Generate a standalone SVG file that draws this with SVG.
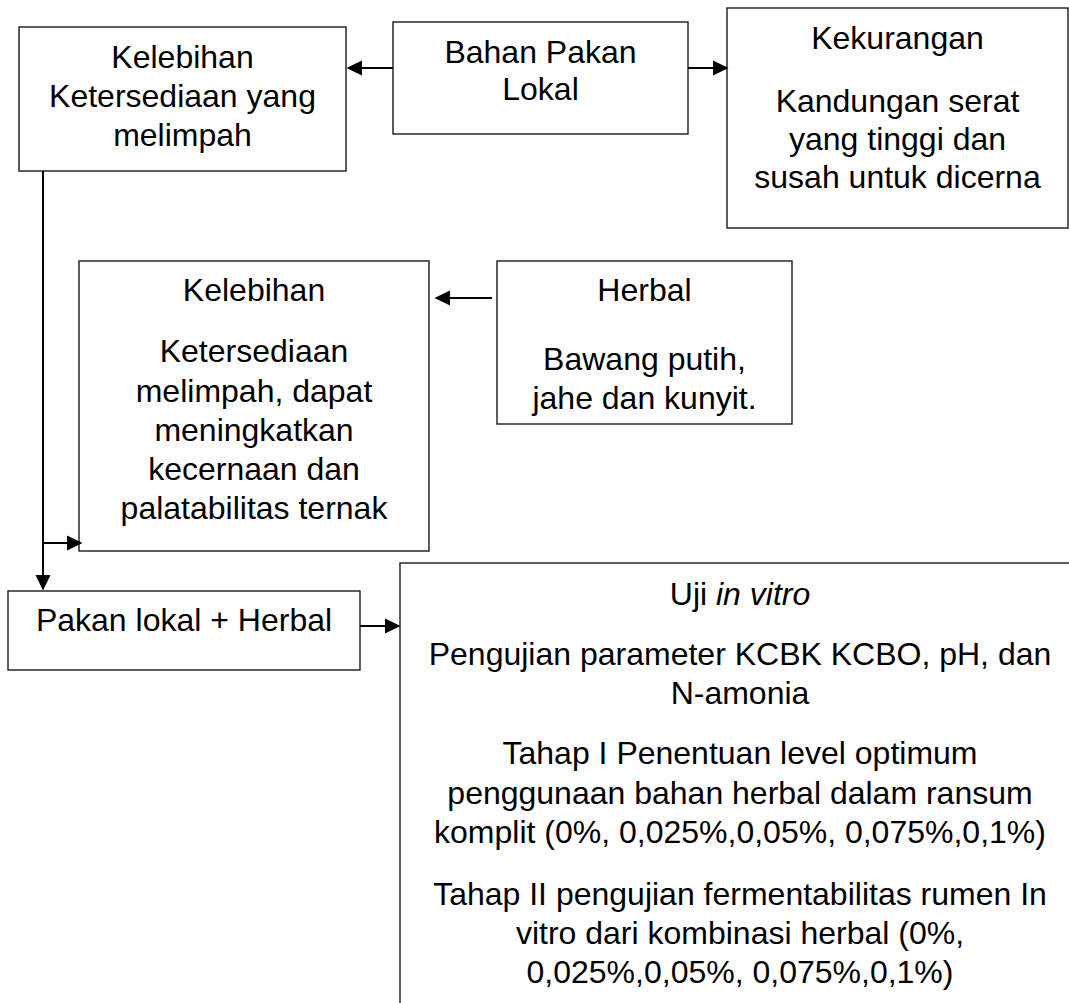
<svg xmlns="http://www.w3.org/2000/svg" width="1069" height="1003" viewBox="0 0 1069 1003">
<style>
.box{fill:#fff;stroke:#1a1a1a;stroke-width:1.4}
.t{font-family:"Liberation Sans",Arial,sans-serif;font-size:32px;fill:#000;text-anchor:middle}
.c{stroke:#000;stroke-width:2;fill:none;marker-end:url(#ah)}
</style>
<defs>
<marker id="ah" markerUnits="userSpaceOnUse" markerWidth="16" markerHeight="16" refX="4" refY="8" orient="auto">
<path d="M0,0.5 L15.5,8 L0,15.5 z" fill="#000"/>
</marker>
</defs>
<rect width="1069" height="1003" fill="#fff"/>
<g id="n-kelebihan1">
<rect class="box" x="19" y="27" width="327" height="144"/>
<text class="t" x="182.5" y="68">Kelebihan</text>
<text class="t" x="182.5" y="107">Ketersediaan yang</text>
<text class="t" x="182.5" y="146">melimpah</text>
</g>
<g id="n-bahan">
<rect class="box" x="393" y="22" width="295" height="112"/>
<text class="t" x="540.5" y="63">Bahan Pakan</text>
<text class="t" x="540.5" y="100">Lokal</text>
</g>
<g id="n-kekurangan">
<rect class="box" x="727" y="8" width="341" height="220"/>
<text class="t" x="897.5" y="49">Kekurangan</text>
<text class="t" x="897.5" y="112">Kandungan serat</text>
<text class="t" x="897.5" y="150">yang tinggi dan</text>
<text class="t" x="897.5" y="188">susah untuk dicerna</text>
</g>
<g id="n-kelebihan2">
<rect class="box" x="79" y="261" width="350" height="290"/>
<text class="t" x="254" y="301">Kelebihan</text>
<text class="t" x="254" y="362">Ketersediaan</text>
<text class="t" x="254" y="402">melimpah, dapat</text>
<text class="t" x="254" y="441">meningkatkan</text>
<text class="t" x="254" y="480">kecernaan dan</text>
<text class="t" x="254" y="519">palatabilitas ternak</text>
</g>
<g id="n-herbal">
<rect class="box" x="497" y="261" width="295" height="163"/>
<text class="t" x="644.5" y="301">Herbal</text>
<text class="t" x="644.5" y="370">Bawang putih,</text>
<text class="t" x="644.5" y="409">jahe dan kunyit.</text>
</g>
<g id="n-pakanherbal">
<rect class="box" x="8" y="591" width="352" height="79"/>
<text class="t" x="184" y="631">Pakan lokal + Herbal</text>
</g>
<g id="n-invitro">
<rect class="box" x="400" y="563" width="700" height="500"/>
<text class="t" x="740" y="605">Uji <tspan font-style="italic">in vitro</tspan></text>
<text class="t" x="740" y="665">Pengujian parameter KCBK KCBO, pH, dan</text>
<text class="t" x="740" y="704">N-amonia</text>
<text class="t" x="740" y="764">Tahap I Penentuan level optimum</text>
<text class="t" x="740" y="804">penggunaan bahan herbal dalam ransum</text>
<text class="t" x="740" y="843">komplit (0%, 0,025%,0,05%, 0,075%,0,1%)</text>
<text class="t" x="740" y="905">Tahap II pengujian fermentabilitas rumen In</text>
<text class="t" x="740" y="944">vitro dari kombinasi herbal (0%,</text>
<text class="t" x="740" y="983">0,025%,0,05%, 0,075%,0,1%)</text>
</g>
<g id="connectors">
<line class="c" x1="393" y1="68" x2="358" y2="68"/>
<line class="c" x1="688" y1="68" x2="717" y2="68"/>
<line class="c" x1="492" y1="298" x2="446" y2="298"/>
<line class="c" x1="43" y1="171" x2="43" y2="579"/>
<line class="c" x1="43" y1="543" x2="71" y2="543"/>
<line class="c" x1="360" y1="626" x2="389" y2="626"/>
</g>
</svg>
